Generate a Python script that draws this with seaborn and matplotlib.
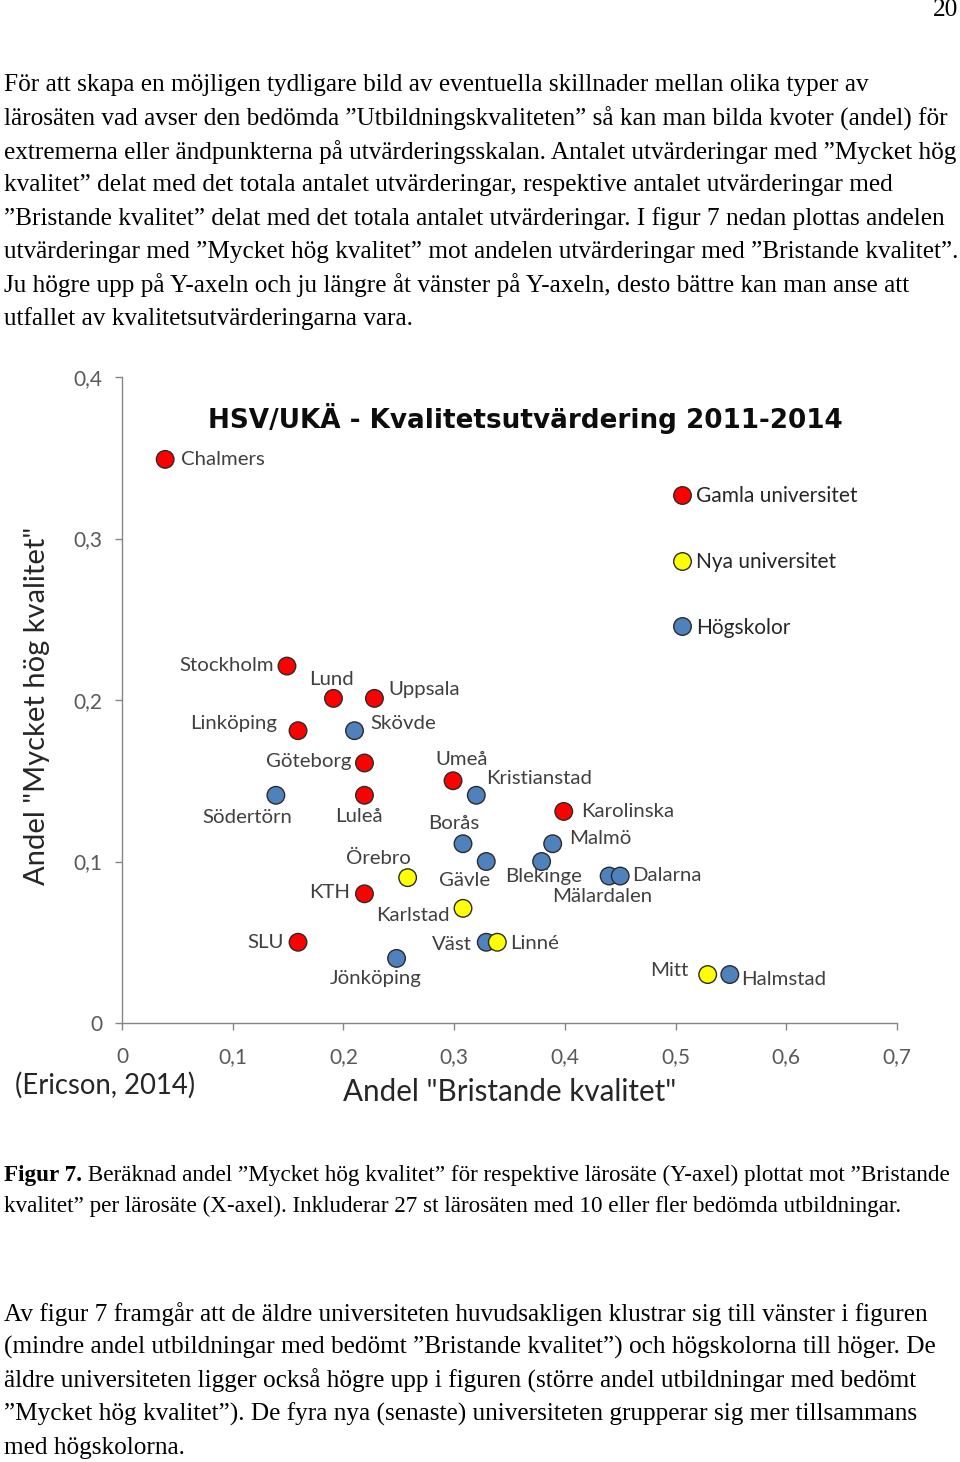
import matplotlib
matplotlib.use("Agg")
import matplotlib.pyplot as plt
import seaborn as sns
import pandas as pd
from matplotlib.ticker import FixedLocator, FuncFormatter

# ---------------- data ----------------
names = ["Chalmers", "Stockholm", "Lund", "Uppsala", "Linköping", "Skövde",
         "Göteborg", "Umeå", "Kristianstad", "Södertörn", "Luleå", "Karolinska",
         "Borås", "Malmö", "Gävle", "Blekinge", "Örebro", "Mälardalen", "Dalarna",
         "KTH", "Karlstad", "SLU", "Väst", "Linné", "Jönköping", "Mitt", "Halmstad"]
bristande = [0.039, 0.149, 0.191, 0.228, 0.159, 0.210,
             0.219, 0.299, 0.320, 0.139, 0.219, 0.399,
             0.308, 0.389, 0.329, 0.379, 0.258, 0.440, 0.450,
             0.219, 0.308, 0.159, 0.329, 0.339, 0.248, 0.529, 0.549]
mycket_hog = [0.349, 0.221, 0.201, 0.201, 0.181, 0.181,
              0.161, 0.150, 0.141, 0.141, 0.141, 0.131,
              0.111, 0.111, 0.100, 0.100, 0.090, 0.091, 0.091,
              0.080, 0.071, 0.050, 0.050, 0.050, 0.040, 0.030, 0.030]
groups = ["Gamla universitet", "Gamla universitet", "Gamla universitet", "Gamla universitet",
          "Gamla universitet", "Högskolor", "Gamla universitet", "Gamla universitet",
          "Högskolor", "Högskolor", "Gamla universitet", "Gamla universitet",
          "Högskolor", "Högskolor", "Högskolor", "Högskolor", "Nya universitet",
          "Högskolor", "Högskolor", "Gamla universitet", "Nya universitet",
          "Gamla universitet", "Högskolor", "Nya universitet", "Högskolor",
          "Nya universitet", "Högskolor"]
group_order = ["Gamla universitet", "Nya universitet", "Högskolor"]
x_ticks = [0, 0.1, 0.2, 0.3, 0.4, 0.5, 0.6, 0.7]
y_ticks = [0, 0.1, 0.2, 0.3, 0.4]

title = "HSV/UKÄ - Kvalitetsutvärdering 2011-2014"
x_label = 'Andel "Bristande kvalitet"'
y_label = 'Andel "Mycket hög kvalitet"'
source = "(Ericson, 2014)"

para1 = [
    "För att skapa en möjligen tydligare bild av eventuella skillnader mellan olika typer av",
    "lärosäten vad avser den bedömda ”Utbildningskvaliteten” så kan man bilda kvoter (andel) för",
    "extremerna eller ändpunkterna på utvärderingsskalan. Antalet utvärderingar med ”Mycket hög",
    "kvalitet” delat med det totala antalet utvärderingar, respektive antalet utvärderingar med",
    "”Bristande kvalitet” delat med det totala antalet utvärderingar. I figur 7 nedan plottas andelen",
    "utvärderingar med ”Mycket hög kvalitet” mot andelen utvärderingar med ”Bristande kvalitet”.",
    "Ju högre upp på Y-axeln och ju längre åt vänster på Y-axeln, desto bättre kan man anse att",
    "utfallet av kvalitetsutvärderingarna vara.",
]
caption_bold = "Figur 7."
caption = [
    " Beräknad andel ”Mycket hög kvalitet” för respektive lärosäte (Y-axel) plottat mot ”Bristande",
    "kvalitet” per lärosäte (X-axel). Inkluderar 27 st lärosäten med 10 eller fler bedömda utbildningar.",
]
para2 = [
    "Av figur 7 framgår att de äldre universiteten huvudsakligen klustrar sig till vänster i figuren",
    "(mindre andel utbildningar med bedömt ”Bristande kvalitet”) och högskolorna till höger. De",
    "äldre universiteten ligger också högre upp i figuren (större andel utbildningar med bedömt",
    "”Mycket hög kvalitet”). De fyra nya (senaste) universiteten grupperar sig mer tillsammans",
    "med högskolorna.",
]
page_number = "20"

# label placement (pixel offsets from marker, ha)
label_pos = {
    "Chalmers": (16, 0, "left"), "Stockholm": (-13, 1, "right"), "Lund": (-2, 19, "center"),
    "Uppsala": (14, 9, "left"), "Linköping": (-21, 7, "right"), "Skövde": (16, 7, "left"),
    "Göteborg": (-13, 1, "right"), "Umeå": (9, 21, "center"), "Kristianstad": (10, 17, "left"),
    "Södertörn": (-29, -22, "center"), "Luleå": (-6, -21, "center"), "Karolinska": (17, 0, "left"),
    "Borås": (-9, 20, "center"), "Malmö": (16, 5, "left"), "Gävle": (-22, -19, "center"),
    "Blekinge": (2, -15, "center"), "Örebro": (-29, 19, "center"), "Mälardalen": (-7, -20, "center"),
    "Dalarna": (12, 1, "left"), "KTH": (-14, 1, "right"), "Karlstad": (-13, -7, "right"),
    "SLU": (-14, 0, "right"), "Väst": (-14, -2, "right"), "Linné": (13, -1, "left"),
    "Jönköping": (-21, -20, "center"), "Mitt": (-19, 4, "right"), "Halmstad": (11, -5, "left"),
}

df = pd.DataFrame({"name": names, "x": bristande, "y": mycket_hog, "grupp": groups})

# ---------------- figure ----------------
sns.set_theme(style="white")
plt.rcParams["font.family"] = ["Lato", "DejaVu Sans"]

W, H = 960, 1462
fig = plt.figure(figsize=(W / 100, H / 100), dpi=100)
fig.patch.set_facecolor("white")

def ft(x, y, s, **kw):
    return fig.text(x / W, 1 - y / H, s, **kw)

serif = ["Liberation Serif", "DejaVu Serif"]
body_fs = 18.2
cap_fs = 16.65
ft(958, 10, page_number, fontsize=body_fs, family=serif, ha="right", va="center", color="black")
for i, line in enumerate(para1):
    ft(4, 85 + i * 33.4, line, fontsize=body_fs, family=serif, ha="left", va="center", color="black")

t = ft(4, 1175, caption_bold, fontsize=cap_fs, family=serif, weight="bold",
       ha="left", va="center", color="black")
fig.canvas.draw()
bb = t.get_window_extent()
ft(bb.x1, 1175, caption[0], fontsize=cap_fs, family=serif, ha="left", va="center", color="black")
ft(4, 1206, caption[1], fontsize=cap_fs, family=serif, ha="left", va="center", color="black")

for i, line in enumerate(para2):
    ft(4, 1314 + i * 33.4, line, fontsize=body_fs, family=serif, ha="left", va="center", color="black")

# chart axes
ax_l, ax_r, ax_t, ax_b = 122, 897, 377, 1023
ax = fig.add_axes([ax_l / W, 1 - ax_b / H, (ax_r - ax_l) / W, (ax_b - ax_t) / H])
ax.set_facecolor("none")

palette = {"Gamla universitet": "#FF0000", "Nya universitet": "#FFFF00", "Högskolor": "#4F81BD"}
sns.scatterplot(data=df, x="x", y="y", hue="grupp", hue_order=group_order, palette=palette,
                s=160, edgecolor="#2b2b2b", linewidth=1.0, ax=ax, zorder=3)

ax.set_xlim(0, 0.7)
ax.set_ylim(0, 0.4)
ax.xaxis.set_major_locator(FixedLocator(x_ticks))
ax.yaxis.set_major_locator(FixedLocator(y_ticks))
fmt = FuncFormatter(lambda v, p: "0" if v == 0 else f"{v:.1f}".replace(".", ","))
ax.xaxis.set_major_formatter(fmt)
ax.yaxis.set_major_formatter(fmt)
for side in ["top", "right"]:
    ax.spines[side].set_visible(False)
for side in ["left", "bottom"]:
    ax.spines[side].set_color("#868686")
    ax.spines[side].set_linewidth(1.0)
ax.tick_params(axis="both", which="major", direction="out", length=5, width=1.0,
               color="#868686", labelcolor="#595959", labelsize=15)
ax.tick_params(axis="x", pad=12, bottom=True)
ax.tick_params(axis="y", pad=9, left=True)
ax.set_xlabel("")
ax.set_ylabel("")

for n, xv, yv in zip(names, bristande, mycket_hog):
    dx, dy, ha = label_pos[n]
    ax.annotate(n, (xv, yv), xytext=(dx, dy), textcoords="offset pixels",
                ha=ha, va="center", fontsize=14.7, color="#404040", zorder=4)

# legend
sns.move_legend(ax, "upper left", bbox_to_anchor=(672 / W, 1 - 486 / H),
                bbox_transform=fig.transFigure, frameon=False, title=None,
                borderpad=0, borderaxespad=0, handlelength=1.0, handletextpad=0.15,
                labelspacing=2.2, fontsize=15.0)
leg = ax.get_legend()
for txt in leg.get_texts():
    txt.set_color("#262626")

# titles & labels
ft(525, 418, title, fontsize=18.9, family=["DejaVu Sans"], weight="bold",
   ha="center", va="center", color="#0d0d0d")
ft(510, 1092, x_label, fontsize=21.3, ha="center", va="center", color="#262626")
ft(37, 706, y_label, fontsize=21, ha="center", va="center", rotation=90, color="#262626")
ft(15, 1085, source, fontsize=19.8, ha="left", va="center", color="#262626")

fig.savefig("out.png", dpi=100, facecolor="white")
